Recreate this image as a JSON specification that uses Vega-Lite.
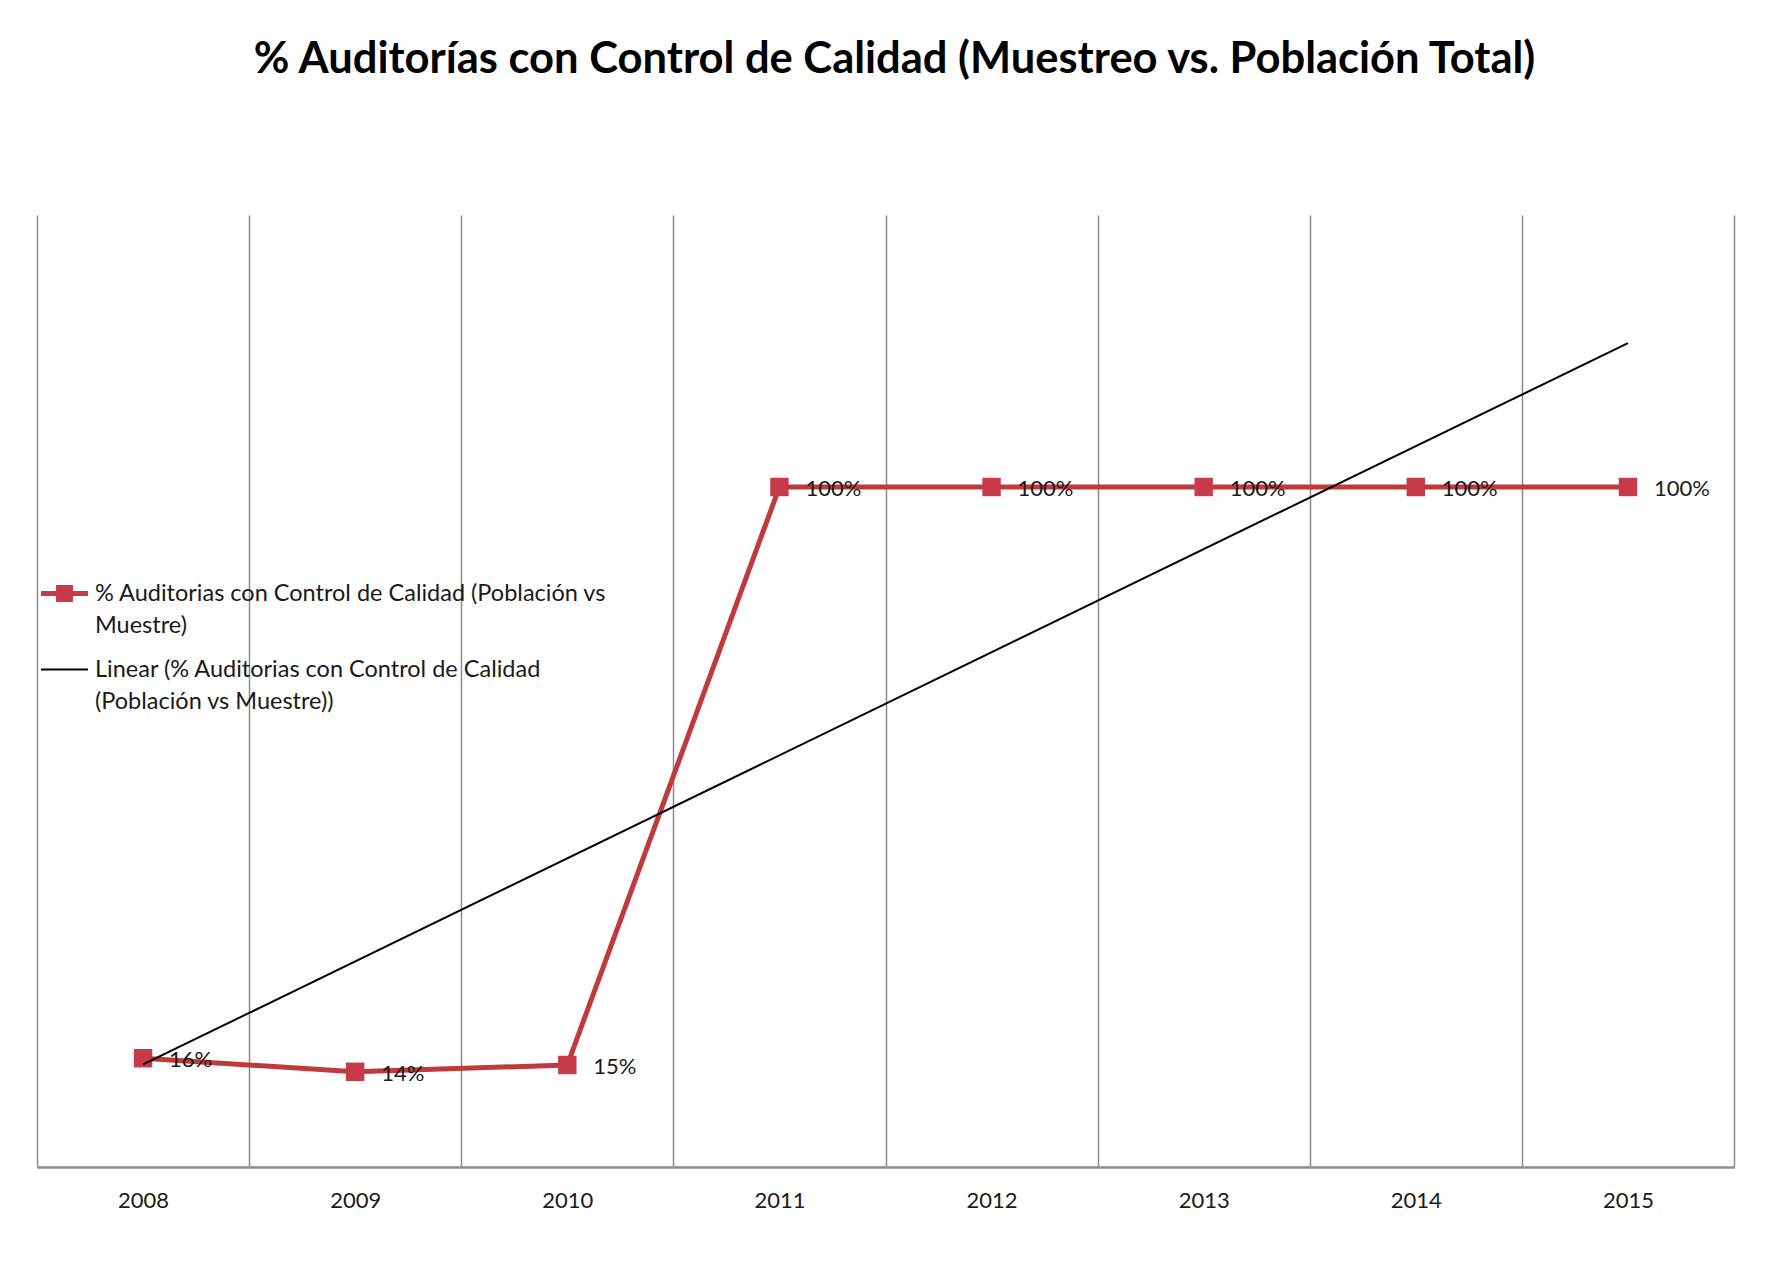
{
  "$schema": "https://vega.github.io/schema/vega-lite/v6.json",
  "autosize": {"type": "none"},
  "width": 1697,
  "height": 952,
  "padding": {"left": 37, "top": 215, "right": 43, "bottom": 119},
  "background": "white",
  "title": {
    "text": "% Auditorías con Control de Calidad (Muestreo vs. Población Total)",
    "font": "Lato",
    "fontSize": 43.5,
    "fontWeight": "bold",
    "color": "#000000",
    "anchor": "middle",
    "offset": 133,
    "dx": 9
  },
  "data": {
    "values": [
      {"year": 2008, "value": 0.16},
      {"year": 2009, "value": 0.14},
      {"year": 2010, "value": 0.15},
      {"year": 2011, "value": 1.0},
      {"year": 2012, "value": 1.0},
      {"year": 2013, "value": 1.0},
      {"year": 2014, "value": 1.0},
      {"year": 2015, "value": 1.0}
    ]
  },
  "encoding": {
    "x": {
      "field": "year",
      "type": "ordinal",
      "scale": {"paddingInner": 0, "paddingOuter": 0},
      "axis": {
        "title": null,
        "labelAngle": 0,
        "labelFont": "Lato",
        "labelFontSize": 22,
        "labelColor": "#1a1a1a",
        "labelPadding": 23,
        "ticks": false,
        "grid": true,
        "gridColor": "#8c8c8c",
        "gridWidth": 1.5,
        "tickBand": "extent",
        "domainColor": "#8c8c8c",
        "domainWidth": 2.5
      }
    },
    "y": {
      "field": "value",
      "type": "quantitative",
      "scale": {"domain": [0, 1.4], "nice": false, "zero": true},
      "axis": null
    }
  },
  "layer": [
    {
      "mark": {"type": "line", "strokeWidth": 5},
      "encoding": {
        "color": {
          "datum": "% Auditorias con Control de Calidad (Población vs Muestre)",
          "type": "nominal",
          "scale": {
            "domain": [
              "% Auditorias con Control de Calidad (Población vs Muestre)",
              "Linear (% Auditorias con Control de Calidad (Población vs Muestre))"
            ],
            "range": ["#C0393B", "#000000"]
          },
          "legend": {
            "title": null,
            "orient": "none",
            "legendX": 4,
            "legendY": 355,
            "symbolSize": 2209,
            "labelFont": "Lato",
            "labelFontSize": 23.5,
            "labelColor": "#1a1a1a",
            "labelOffset": 7,
            "labelLimit": 1000,
            "rowPadding": 9,
            "labelExpr": "indexof(datum.value, 'Linear') == 0 ? ['Linear (% Auditorias con Control de Calidad', '(Población vs Muestre))'] : ['% Auditorias con Control de Calidad (Población vs', 'Muestre)']",
            "encode": {
              "symbols": {
                "update": {
                  "shape": {"signal": "indexof(datum.value, 'Linear') == 0 ? 'M-1,-0.045H1V0.045H-1Z' : 'M-1,-0.11H-0.36V-0.36H0.36V-0.11H1V0.11H0.36V0.36H-0.36V0.11H-1Z'"},
                  "fill": {"signal": "indexof(datum.value, 'Linear') == 0 ? '#000000' : '#C83A48'"},
                  "stroke": {"value": "transparent"},
                  "strokeWidth": {"value": 0},
                  "opacity": {"value": 1}
                }
              },
              "labels": {
                "update": {
                  "lineHeight": {"value": 32}
                }
              }
            }
          }
        }
      }
    },
    {
      "mark": {"type": "point", "shape": "square", "filled": true, "size": 340, "color": "#C83A4A", "opacity": 1}
    },
    {
      "transform": [
        {"regression": "value", "on": "year", "method": "linear"}
      ],
      "mark": {"type": "line", "strokeWidth": 2},
      "encoding": {
        "color": {
          "datum": "Linear (% Auditorias con Control de Calidad (Población vs Muestre))",
          "type": "nominal"
        }
      }
    },
    {
      "mark": {"type": "text", "align": "left", "baseline": "middle", "dx": 26, "dy": 2, "font": "Lato", "fontSize": 22, "color": "#1a1a1a"},
      "encoding": {
        "text": {"field": "value", "type": "quantitative", "format": ".0%"}
      }
    }
  ],
  "config": {
    "view": {"stroke": null}
  }
}
